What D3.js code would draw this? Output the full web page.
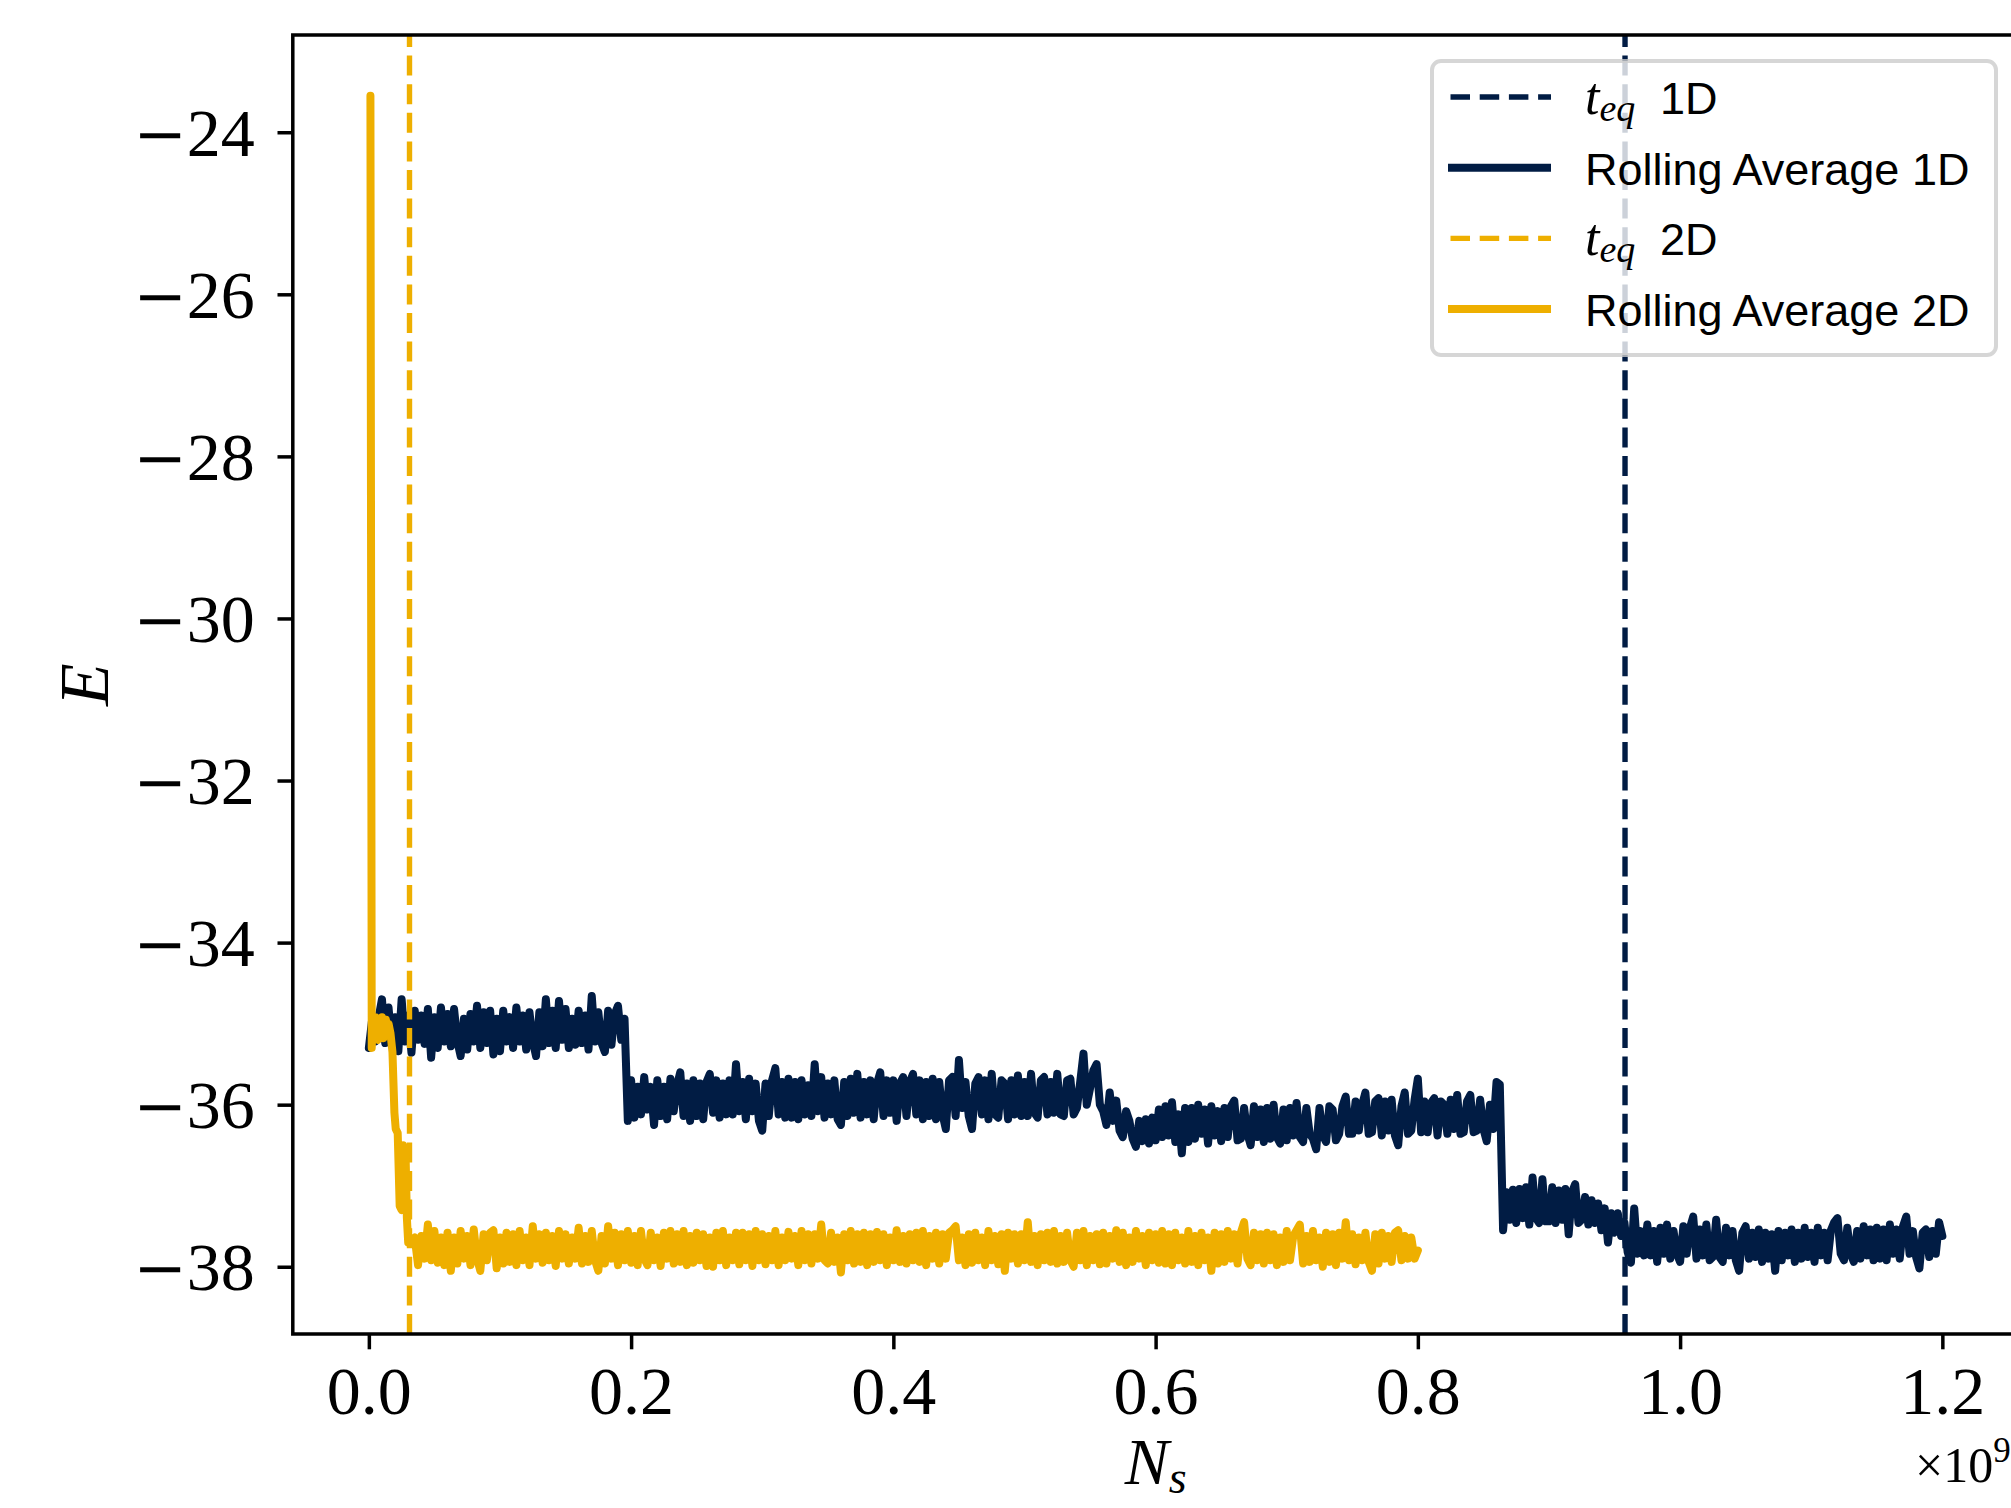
<!DOCTYPE html>
<html>
<head>
<meta charset="utf-8">
<script src="https://cdn.jsdelivr.net/npm/d3@7"></script>
<style>
    html, body { margin: 0; padding: 0; background: #fff; }
    #viz { width: 2011px; height: 1508px; overflow: hidden; }
</style>
</head>
<body>
<div id="viz"></div>
<script>
//Colores fijos
const COLOR_1D = '#011c44',
COLOR_2D = '#eeaf00',
COLOR_AXIS = '#000000',
COLOR_LEGEND_EDGE = '#cccccc';

const NS_STEP = 0.0025;
const NS_1D_START = 0;
const E_1D = [
    -35.30, -34.95, -35.22, -34.92, -34.70, -35.24, -34.80, -35.26, -34.92, -35.34,
    -34.70, -35.22, -34.90, -35.36, -34.84, -35.20, -34.90, -35.25, -34.82, -35.42,
    -34.92, -35.30, -34.80, -35.22, -34.88, -35.28, -34.82, -35.22, -35.40, -34.94,
    -35.32, -34.88, -35.22, -34.78, -35.30, -34.86, -35.24, -34.84, -35.38, -34.94,
    -35.34, -34.84, -35.22, -34.92, -35.30, -34.80, -35.22, -34.90, -35.32, -34.86,
    -35.22, -35.40, -34.86, -35.28, -34.70, -35.24, -34.84, -35.30, -34.72, -35.20,
    -34.82, -35.30, -34.94, -35.26, -34.84, -35.24, -34.90, -35.32, -34.66, -35.22,
    -34.86, -35.24, -35.35, -34.84, -35.26, -34.88, -34.78, -35.20, -34.94, -36.20,
    -35.70, -36.16, -35.78, -36.12, -35.66, -36.06, -35.78, -36.25, -35.70, -36.14,
    -35.78, -36.18, -35.68, -36.08, -35.76, -35.60, -36.14, -35.74, -36.20, -35.70,
    -36.14, -35.74, -36.18, -35.72, -35.62, -36.10, -35.70, -36.16, -35.74, -36.12,
    -35.70, -36.12, -35.50, -36.08, -35.72, -36.18, -35.68, -36.08, -35.74, -36.20,
    -36.32, -35.74, -36.14, -35.70, -35.55, -36.12, -35.72, -36.16, -35.68, -36.16,
    -35.72, -36.18, -35.70, -36.12, -35.76, -36.14, -35.50, -36.08, -35.66, -36.16,
    -35.74, -36.12, -35.70, -36.18, -36.25, -35.72, -36.14, -35.68, -36.10, -35.62,
    -36.16, -35.72, -36.12, -35.70, -36.18, -35.74, -35.60, -36.14, -35.70, -36.10,
    -35.70, -36.20, -35.74, -35.66, -36.14, -35.72, -35.62, -36.12, -35.70, -36.18,
    -35.72, -36.14, -35.68, -36.18, -35.72, -36.12, -36.30, -35.70, -35.66, -36.14,
    -35.45, -36.04, -35.72, -36.14, -36.30, -35.74, -35.66, -36.12, -35.70, -36.18,
    -35.62, -36.12, -36.16, -35.70, -35.74, -36.18, -35.70, -36.12, -35.64, -36.14,
    -35.72, -36.14, -35.62, -36.10, -36.16, -35.70, -35.66, -36.12, -35.72, -36.10,
    -35.62, -36.12, -36.14, -35.70, -35.68, -36.12, -36.04, -35.72, -35.37, -36.00,
    -35.80, -35.58, -35.50, -36.00, -36.08, -36.25, -35.85, -36.20, -35.95, -36.32,
    -36.40, -36.08, -36.20, -36.42, -36.52, -36.20, -36.45, -36.18, -36.48, -36.16,
    -36.44, -36.06, -36.40, -36.02, -36.38, -35.97, -36.46, -36.12, -36.60, -36.04,
    -36.46, -36.04, -36.42, -36.00, -36.36, -36.06, -36.48, -36.02, -36.38, -36.08,
    -36.45, -36.04, -36.40, -36.02, -35.95, -36.44, -36.42, -36.04, -36.36, -36.50,
    -36.02, -36.40, -36.06, -36.46, -36.04, -36.42, -36.00, -36.40, -36.48, -36.06,
    -36.44, -36.04, -36.38, -35.98, -36.40, -36.46, -36.04, -36.36, -36.42, -36.55,
    -36.04, -36.38, -36.46, -36.02, -36.06, -36.44, -36.36, -36.02, -35.90, -36.36,
    -36.36, -35.96, -36.32, -36.00, -35.85, -36.36, -36.34, -35.96, -35.92, -36.38,
    -35.96, -36.32, -35.94, -36.38, -36.50, -36.02, -35.85, -36.36, -36.32, -35.94,
    -35.68, -36.34, -35.96, -36.34, -35.98, -35.92, -36.38, -35.96, -36.00, -36.36,
    -35.94, -36.30, -35.88, -36.36, -36.34, -35.96, -35.88, -36.34, -36.32, -35.94,
    -36.30, -36.45, -36.00, -36.30, -35.72, -35.75, -37.55, -37.08, -37.42, -37.05,
    -37.46, -37.04, -37.40, -37.02, -37.48, -36.90, -37.40, -37.46, -36.92, -37.44,
    -37.44, -37.02, -37.46, -37.06, -37.42, -37.04, -37.60, -37.08, -36.98, -37.46,
    -37.42, -37.14, -37.48, -37.18, -37.46, -37.22, -37.55, -37.28, -37.70, -37.34,
    -37.58, -37.34, -37.62, -37.45, -37.82, -37.95, -37.28, -37.84, -37.56, -37.86,
    -37.48, -37.86, -37.56, -37.94, -37.52, -37.84, -37.48, -37.90, -37.56, -37.84,
    -37.94, -37.50, -37.84, -37.52, -37.38, -37.90, -37.54, -37.86, -37.48, -37.92,
    -37.88, -37.42, -37.88, -37.94, -37.52, -37.86, -37.56, -37.92, -38.05, -37.58,
    -37.50, -37.90, -37.58, -37.88, -37.54, -37.94, -37.58, -37.90, -37.60, -38.05,
    -37.56, -37.92, -37.58, -37.86, -37.54, -37.94, -37.58, -37.90, -37.52, -37.88,
    -37.58, -37.94, -37.52, -37.86, -37.58, -37.92, -37.55, -37.45, -37.40, -37.84,
    -37.92, -37.52, -37.84, -37.94, -37.56, -37.90, -37.50, -37.86, -37.54, -37.92,
    -37.52, -37.90, -37.54, -37.92, -37.48, -37.84, -37.54, -37.90, -37.50, -37.38,
    -37.84, -37.56, -37.88, -38.02, -37.58, -37.54, -37.88, -37.56, -37.84, -37.45,
    -37.62
];

//2D: tramo inicial irregular + resto con paso fijo
const NS_2D_HEAD = [0.0012, 0.0022, 0.0030, 0.0040, 0.0050, 0.0060, 0.0070, 0.0080, 0.0090, 0.0100,
    0.0110, 0.0120, 0.0130, 0.0140, 0.0150, 0.0165, 0.0180, 0.0195, 0.0205, 0.0220,
    0.0235, 0.0250, 0.0262, 0.0280, 0.0290, 0.0300];
const E_2D_HEAD = [-23.55, -35.30, -34.95, -35.18, -34.92, -35.15, -35.20, -34.95, -35.12, -34.92,
    -35.18, -34.98, -34.95, -35.15, -35.00, -35.12, -35.35, -36.10, -36.30, -36.35,
    -37.25, -37.30, -36.50, -36.60, -37.40, -37.70];
const NS_2D_BODY_START = 0.035;
const E_2D_BODY = [
    -37.64, -37.98, -37.62, -37.90, -37.48, -37.92, -37.56, -37.95, -37.64, -37.98,
    -37.58, -38.05, -37.64, -37.96, -37.56, -37.90, -37.62, -37.98, -37.54, -37.90,
    -38.05, -37.60, -37.92, -37.58, -37.55, -38.02, -37.64, -37.96, -37.58, -37.94,
    -37.60, -37.98, -37.56, -37.92, -37.64, -37.98, -37.50, -37.90, -37.60, -37.95,
    -37.58, -37.92, -37.62, -37.99, -37.56, -37.90, -37.60, -37.96, -37.64, -37.90,
    -37.52, -37.96, -37.62, -37.94, -37.56, -37.92, -38.05, -37.62, -37.96, -37.50,
    -37.90, -37.58, -37.98, -37.60, -37.92, -37.56, -37.95, -37.62, -37.98, -37.56,
    -37.90, -37.98, -37.58, -37.92, -37.64, -37.99, -37.58, -37.90, -37.56, -37.96,
    -37.60, -37.94, -37.56, -37.98, -37.62, -37.95, -37.58, -37.92, -37.60, -37.99,
    -37.64, -38.00, -37.58, -37.92, -37.56, -37.98, -37.64, -37.92, -37.58, -37.97,
    -37.58, -37.92, -37.60, -37.99, -37.56, -37.92, -37.60, -37.97, -37.62, -37.92,
    -37.56, -37.98, -37.64, -37.92, -37.57, -37.90, -37.62, -37.98, -37.56, -37.92,
    -37.60, -37.96, -37.60, -37.90, -37.48, -37.92, -37.96, -37.58, -37.94, -37.64,
    -38.07, -37.60, -37.92, -37.56, -37.96, -37.60, -37.94, -37.58, -37.98, -37.60,
    -37.94, -37.57, -37.92, -37.60, -37.98, -37.64, -37.92, -37.55, -37.94, -37.62,
    -37.96, -37.60, -37.92, -37.58, -37.94, -37.56, -37.98, -37.62, -37.90, -37.58,
    -37.96, -37.60, -37.90, -37.58, -37.55, -37.50, -37.92, -37.64, -37.98, -37.60,
    -37.95, -37.58, -37.92, -37.64, -37.98, -37.56, -37.92, -37.62, -37.97, -37.60,
    -38.05, -37.58, -37.90, -37.60, -37.96, -37.60, -37.92, -37.45, -37.94, -37.62,
    -37.98, -37.60, -37.92, -37.58, -37.94, -37.56, -37.96, -37.62, -37.94, -37.58,
    -37.92, -38.00, -37.58, -37.92, -37.56, -37.98, -37.62, -37.92, -37.60, -37.97,
    -37.58, -37.96, -37.62, -37.90, -37.55, -37.94, -37.58, -37.98, -37.64, -37.94,
    -37.56, -37.90, -37.62, -37.98, -37.58, -37.92, -37.60, -37.95, -37.56, -37.96,
    -37.60, -37.98, -37.58, -37.92, -37.64, -37.96, -37.56, -37.94, -37.62, -37.98,
    -37.58, -37.92, -37.64, -38.05, -37.58, -37.96, -37.60, -37.94, -37.56, -37.90,
    -37.60, -37.96, -37.58, -37.45, -37.90, -37.98, -37.58, -37.92, -37.60, -37.96,
    -37.58, -37.92, -37.60, -37.98, -37.64, -37.94, -37.56, -37.92, -37.62, -37.55,
    -37.48, -37.96, -37.62, -37.94, -37.56, -37.92, -37.64, -38.00, -37.58, -37.94,
    -37.60, -37.98, -37.58, -37.90, -37.45, -37.92, -37.60, -37.97, -37.64, -37.92,
    -37.58, -37.94, -38.05, -37.60, -37.96, -37.58, -37.90, -37.62, -37.94, -37.58,
    -37.55, -37.92, -37.62, -37.90, -37.64, -37.90, -37.80
];

//Tiempos de equilibrio
const T_EQ_1D = 0.958, T_EQ_2D = 0.031;

//Ejes
const X_TICKS = [0, 0.2, 0.4, 0.6, 0.8, 1.0, 1.2];
const Y_TICKS = [-38, -36, -34, -32, -30, -28, -26, -24];
const X_DOMAIN = [-0.058, 1.258];
const Y_DOMAIN = [-38.83, -22.80];

//Leyenda
const LEGEND_LABELS = ['1D', 'Rolling Average 1D', '2D', 'Rolling Average 2D'];

function initChart() {
    let data1D = E_1D.map(function(e, i) { return { ns: NS_1D_START + i * NS_STEP, e: e }; });
    let data2D = NS_2D_HEAD.map(function(ns, i) { return { ns: ns, e: E_2D_HEAD[i] }; })
        .concat(E_2D_BODY.map(function(e, i) { return { ns: NS_2D_BODY_START + i * NS_STEP, e: e }; }));

    let margin = {top: 35, right: 0, bottom: 174, left: 292.8},
        width = 1725.6,
        height = 1299;

    let root = d3.select('#viz')
        .append('svg')
            .attr('width', 2011)
            .attr('height', 1508)
            .style('display', 'block');

    let svg = root.append('g')
        .attr('transform', 'translate(' + margin.left + ',' + margin.top + ')');

    let x = d3.scaleLinear().domain(X_DOMAIN).range([0, width]);
    let y = d3.scaleLinear().domain(Y_DOMAIN).range([height, 0]);

    root.append('defs').append('clipPath').attr('id', 'plotClip')
        .append('rect').attr('x', 0).attr('y', 0).attr('width', width).attr('height', height);

    ///// EJES
    let xAxis = svg.append('g')
        .attr('transform', 'translate(0,' + height + ')')
        .call(d3.axisBottom(x).tickValues(X_TICKS).tickSize(15.3).tickFormat(d3.format('.1f')));
    xAxis.select('.domain').remove();
    xAxis.selectAll('line').attr('stroke', COLOR_AXIS).attr('stroke-width', 3.5);
    xAxis.selectAll('text')
        .attr('y', 80).attr('dy', null)
        .attr('fill', COLOR_AXIS)
        .style('font-family', '"Liberation Serif", "DejaVu Serif", serif')
        .style('font-size', '68px');

    let yAxis = svg.append('g')
        .call(d3.axisLeft(y).tickValues(Y_TICKS).tickSize(15.3)
            .tickFormat(function(d) { return Math.abs(d); }));
    yAxis.select('.domain').remove();
    yAxis.selectAll('line').attr('stroke', COLOR_AXIS).attr('stroke-width', 3.5);
    yAxis.selectAll('text')
        .attr('x', -38).attr('dy', '0.34em')
        .attr('fill', COLOR_AXIS)
        .style('font-family', '"Liberation Serif", "DejaVu Serif", serif')
        .style('font-size', '68px')
        .each(function() {
            //signo menos mas largo, como en LaTeX
            let t = d3.select(this), num = t.text();
            t.text(null);
            t.append('tspan').style('font-family', '"DejaVu Serif", serif').style('font-size', '64px').text('\u2212');
            t.append('tspan').text(num);
        });

    //Titulos de ejes
    svg.append('text')
        .attr('transform', 'translate(' + (108 - margin.left) + ',' + (height / 2) + ') rotate(-90)')
        .attr('text-anchor', 'middle')
        .style('font-family', '"Liberation Serif", serif')
        .style('font-style', 'italic')
        .style('font-size', '70px')
        .text('E');

    let xl = svg.append('text')
        .attr('x', width / 2)
        .attr('y', 1484 - margin.top)
        .attr('text-anchor', 'middle')
        .style('font-family', '"Liberation Serif", serif')
        .style('font-style', 'italic')
        .style('font-size', '66px');
    xl.append('tspan').text('N');
    xl.append('tspan').attr('dy', 9).style('font-size', '46px').text('s');

    //Texto de escala x10^9 (cortado por el borde, como en el original)
    let off = svg.append('text')
        .attr('x', 1915 - margin.left)
        .attr('y', 1482 - margin.top)
        .style('font-family', '"Liberation Serif", serif')
        .style('font-size', '50px');
    off.append('tspan').text('\u00d710');
    off.append('tspan').attr('dy', -20).style('font-size', '35px').text('9');

    ///// LINEAS
    let plot = svg.append('g').attr('clip-path', 'url(#plotClip)');

    let line = d3.line()
        .x(function(d) { return x(d.ns); })
        .y(function(d) { return y(d.e); });

    function vline(val, color) {
        plot.append('line')
            .attr('x1', x(val)).attr('x2', x(val))
            .attr('y1', height).attr('y2', 0)
            .attr('stroke', color)
            .attr('stroke-width', 5.4)
            .attr('stroke-dasharray', '20 8.6');
    }

    vline(T_EQ_1D, COLOR_1D);
    plot.append('path')
        .datum(data1D)
        .attr('d', line)
        .attr('fill', 'none')
        .attr('stroke', COLOR_1D)
        .attr('stroke-width', 8)
        .attr('stroke-linejoin', 'round')
        .attr('stroke-linecap', 'round');

    vline(T_EQ_2D, COLOR_2D);
    plot.append('path')
        .datum(data2D)
        .attr('d', line)
        .attr('fill', 'none')
        .attr('stroke', COLOR_2D)
        .attr('stroke-width', 8)
        .attr('stroke-linejoin', 'round')
        .attr('stroke-linecap', 'round');

    //Marco
    svg.append('rect')
        .attr('x', 0).attr('y', 0)
        .attr('width', width).attr('height', height)
        .attr('fill', 'none')
        .attr('stroke', COLOR_AXIS)
        .attr('stroke-width', 3.5);

    ///// LEYENDA
    let legend = root.append('g');
    legend.append('rect')
        .attr('x', 1432).attr('y', 61)
        .attr('width', 564).attr('height', 294)
        .attr('rx', 9).attr('ry', 9)
        .attr('fill', '#ffffff').attr('fill-opacity', 0.8)
        .attr('stroke', COLOR_LEGEND_EDGE).attr('stroke-opacity', 0.8)
        .attr('stroke-width', 4);

    let entries = [
        { dashed: true, color: COLOR_1D, label: LEGEND_LABELS[0] },
        { dashed: false, color: COLOR_1D, label: LEGEND_LABELS[1] },
        { dashed: true, color: COLOR_2D, label: LEGEND_LABELS[2] },
        { dashed: false, color: COLOR_2D, label: LEGEND_LABELS[3] }
    ];

    entries.forEach(function(d, i) {
        let ry = 97 + i * 70.7;
        let h = legend.append('line')
            .attr('x1', d.dashed ? 1450.5 : 1448).attr('x2', 1551)
            .attr('y1', ry).attr('y2', ry)
            .attr('stroke', d.color)
            .attr('stroke-width', d.dashed ? 5.4 : 8);
        if (d.dashed) h.attr('stroke-dasharray', '19.5 9.7');

        let t = legend.append('text')
            .attr('x', 1585)
            .attr('y', ry + 17)
            .style('font-family', '"Liberation Sans", Arial, sans-serif')
            .style('font-size', '45px');
        if (d.dashed) {
            t.append('tspan')
                .style('font-family', '"Liberation Serif", serif')
                .style('font-style', 'italic')
                .style('font-size', '52px')
                .text('t');
            t.append('tspan')
                .attr('dy', 7)
                .style('font-family', '"Liberation Serif", serif')
                .style('font-style', 'italic')
                .style('font-size', '38px')
                .text('eq');
            t.append('tspan')
                .attr('x', 1660).attr('dy', -7)
                .text(d.label);
        } else {
            t.text(d.label);
        }
    });
}

initChart();
</script>
</body>
</html>
